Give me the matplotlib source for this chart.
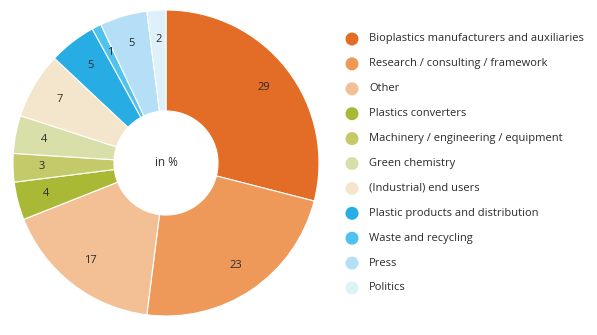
import matplotlib.pyplot as plt
import numpy as np

categories = [
    "Bioplastics manufacturers and auxiliaries",
    "Research / consulting / framework",
    "Other",
    "Plastics converters",
    "Machinery / engineering / equipment",
    "Green chemistry",
    "(Industrial) end users",
    "Plastic products and distribution",
    "Waste and recycling",
    "Press",
    "Politics",
]
values = [29, 23, 17, 4, 3, 4, 7, 5, 1, 5, 2]
colors = ["#E36C26", "#EE995A", "#F3BF95", "#A9B935", "#C4C96A", "#D9DFA8",
          "#F4E6CC", "#27ADE3", "#4FC2EE", "#B5DFF6", "#DEF0FA"]

plt.rcParams['font.family'] = ['Open Sans', 'DejaVu Sans']

W, H = 597, 335
fig = plt.figure(figsize=(W / 100, H / 100), dpi=100)

# overlay in pixel coords for the legend
lax = fig.add_axes([0, 0, 1, 1])
lax.set_xlim(0, W)
lax.set_ylim(H, 0)
lax.axis("off")

cx, cy, R = 166, 172, 153
ax = fig.add_axes([(cx - R) / W, (cy - R) / H, 2 * R / W, 2 * R / H])

wedges, _ = ax.pie(values, colors=colors, startangle=90, counterclock=False,
                   radius=1.0, wedgeprops=dict(width=0.66, edgecolor="white", linewidth=0.8))
ax.set_xlim(-1, 1)
ax.set_ylim(-1, 1)
ax.set_aspect("equal")
ax.axis("off")

for w, v in zip(wedges, values):
    ang = np.deg2rad((w.theta1 + w.theta2) / 2)
    ax.text(0.81 * np.cos(ang), 0.81 * np.sin(ang), str(v), ha="center", va="center",
            fontsize=8, color="#2b2b2b")

ax.text(0, 0, "in %", ha="center", va="center", fontsize=8.5, color="#2b2b2b")

# legend
y0, dy = 39, 24.9
for i, (lab, c) in enumerate(zip(categories, colors)):
    y = y0 + i * dy
    lax.add_patch(plt.Circle((352, y), 6.5, facecolor=c, edgecolor="none"))
    lax.text(369, y, lab, ha="left", va="center", fontsize=8, color="#2b2b2b")

fig.savefig("out.png", dpi=100, facecolor="white")
